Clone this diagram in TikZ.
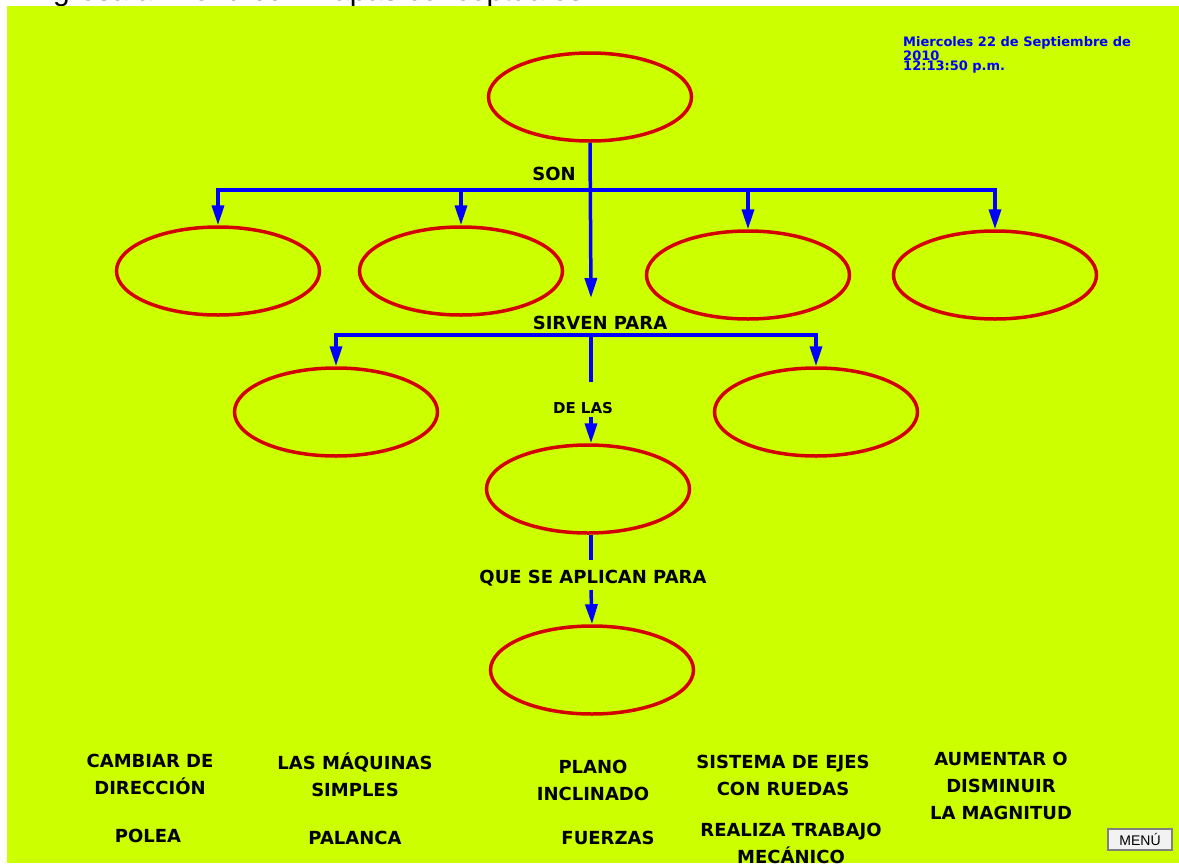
\documentclass[tikz,border=0pt]{standalone}
\usepackage{fontspec}
\setmainfont{DejaVu Sans}
\newfontfamily\arialfont{Liberation Sans}
\usepackage{xcolor}
\usetikzlibrary{arrows.meta, positioning, shapes.geometric}
\definecolor{mybg}{HTML}{CCFF00}
\definecolor{myred}{HTML}{D40000}
\definecolor{myblue}{HTML}{0000FF}

\begin{document}
\begin{tikzpicture}[x=1pt, y=-1pt,
  oval/.style={ellipse, draw=myred, line width=3.5pt, minimum width=203pt, minimum height=88pt},
  lbl/.style={font=\fontsize{18}{20}\selectfont\bfseries, inner sep=1pt},
  word/.style={font=\fontsize{18}{27}\selectfont\bfseries, align=center, inner sep=0pt},
  fecha/.style={myblue, font=\fontsize{13}{13}\selectfont\bfseries, anchor=base west, inner sep=0pt},
  conn/.style={myblue, line width=3.5pt},
  arr/.style={conn, -{Triangle[length=20pt, width=12pt]}}
]
\useasboundingbox (0,0) rectangle (1179,863);
\fill[white] (0,0) rectangle (1179,863);
\begin{scope}
\clip (0,0) rectangle (1179,6);
\node[anchor=base west, inner sep=0pt, font=\arialfont\fontsize{30}{30}\selectfont] (titulo) at (28,0.5) {Ingresa al menú con mapas conceptuales};
\end{scope}
\fill[mybg] (7,6) rectangle (1179,863);

\node[fecha] (fecha1) at (903,46.5) {Miercoles 22 de Septiembre de};
\node[fecha] (fecha2) at (903,60) {2010};
\node[fecha] (hora) at (903,70) {12:13:50 p.m.};

\node[oval] (raiz) at (590,97) {};
\node[oval] (tipo1) at (218,271) {};
\node[oval] (tipo2) at (461,271) {};
\node[oval] (tipo3) at (748,275) {};
\node[oval] (tipo4) at (995,275) {};
\node[oval] (uso1) at (336,412) {};
\node[oval] (uso2) at (816,412) {};
\node[oval] (fuerza) at (588,489) {};
\node[oval] (aplica) at (592,670) {};

\node[lbl] (son) at (554,174) {SON};
\node[lbl] (sirven) at (600,323) {SIRVEN PARA};
\node[lbl, font=\fontsize{15}{17}\selectfont\bfseries] (delas) at (583,408) {DE LAS};
\node[lbl] (queapl) at (593,578) {QUE SE APLICAN PARA};

\coordinate (bus1) at (591,190);
\coordinate (tip1) at (591,298);
\coordinate (bus2) at (591,335);
\coordinate (stub2) at (591,382);
\coordinate (stub3) at (591,560);
\coordinate (start4) at (591,590);
\coordinate (start3) at (591,417);

\draw[arr] (bus1) -| (tipo1.north);
\draw[arr] (bus1) -| (tipo2.north);
\draw[arr] (bus1) -| (tipo3.north);
\draw[arr] (bus1) -| (tipo4.north);
\draw[arr] (raiz.south) -- (tip1);
\draw[arr] (bus2) -| (uso1.north);
\draw[arr] (bus2) -| (uso2.north);
\draw[conn] (bus2) -- (stub2);
\draw[arr] (start3) -- (start3 |- fuerza.north);
\draw[conn] (fuerza.south -| stub3) -- (stub3);
\draw[arr] (start4) -- (aplica.north);

\node[word] (cambio) at (150,774) {CAMBIAR DE\\DIRECCIÓN};
\node[word] (polea) at (148,836) {POLEA};
\node[word] (maquinas) at (355,775) {LAS MÁQUINAS\\SIMPLES};
\node[word] (palanca) at (355,838) {PALANCA};
\node[word] (plano) at (593,780) {PLANO\\INCLINADO};
\node[word] (fuerzas) at (608,838) {FUERZAS};
\node[word] (ejes) at (783,775) {SISTEMA DE EJES\\CON RUEDAS};
\node[word] (trabajo) at (791,843) {REALIZA TRABAJO\\MECÁNICO};
\node[word] (magnitud) at (1001,786) {AUMENTAR O\\DISMINUIR\\LA MAGNITUD};

\node[draw=gray, line width=2pt, fill=gray!10, minimum width=64pt, minimum height=21pt, inner sep=0pt,
      font=\arialfont\fontsize{14}{14}\selectfont] (menu) at (1140,839.5) {MENÚ};
\end{tikzpicture}
\end{document}
